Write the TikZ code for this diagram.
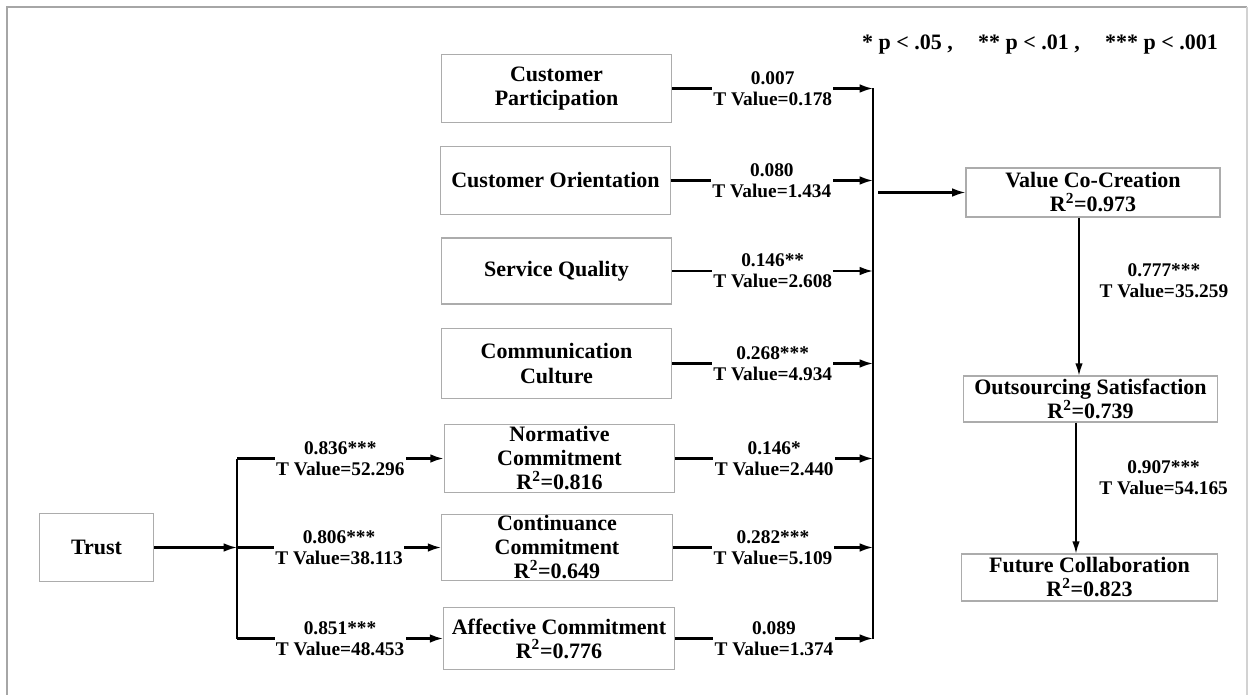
\documentclass[tikz,border=0pt]{standalone}
\usepackage{fontspec}
\setmainfont{Liberation Serif}
\usetikzlibrary{arrows.meta, positioning}

\begin{document}
\begin{tikzpicture}[x=0.75pt, y=-0.75pt, every node/.style={font=\bfseries},
    box/.style={rectangle, draw=gray!65, line width=0.8pt, align=center, inner sep=0pt,
        minimum width=173pt, minimum height=51pt, font=\fontsize{16.5}{18}\selectfont\bfseries},
    lbl/.style={fill=white, align=center, inner sep=1pt, font=\fontsize{14.5}{15.5}\selectfont\bfseries},
    arr/.style={line width=1.6pt, -{Latex[length=10pt, width=6.5pt]}},
    ln/.style={line width=1.6pt},
    varr/.style={line width=1pt, -{Latex[length=9pt, width=5.5pt]}}]
    \useasboundingbox (0,0) rectangle (1248,695);
    \draw[gray!70, line width=1.2pt] (7,695) -- (7,7) -- (1247,7);
    \draw[gray!35, line width=0.8pt] (1247,7) -- (1247,695);

    \node[box] (cp) at (556.5,88.5) {Customer\\Participation};
    \node[box, minimum width=172pt] (co) at (555.5,180.5) {Customer Orientation};
    \node[box, minimum height=49.5pt] (sq) at (556.5,271) {Service Quality};
    \node[box, minimum height=53pt] (cc) at (556.5,363.5) {Communication\\Culture};
    \node[box] (nc) at (559.5,458.5) {Normative\\Commitment\\R\textsuperscript{2}=0.816};
    \node[box, minimum height=49pt] (cm) at (557,547.5) {Continuance\\Commitment\\R\textsuperscript{2}=0.649};
    \node[box, minimum height=47pt] (ac) at (559,638.5) {Affective Commitment\\R\textsuperscript{2}=0.776};
    \node[box, minimum width=86pt] (trust) at (96.5,547.5) {Trust};
    \node[box, minimum width=190.5pt, minimum height=36.75pt] (vcc) at (1093,192.5) {Value Co-Creation\\R\textsuperscript{2}=0.973};
    \node[box, minimum width=191pt, minimum height=34.5pt] (os) at (1090.5,399) {Outsourcing Satisfaction\\R\textsuperscript{2}=0.739};
    \node[box, minimum width=192.5pt, minimum height=35.25pt] (fc) at (1089.5,577.5) {Future Collaboration\\R\textsuperscript{2}=0.823};

    \node[font=\fontsize{16.5}{18}\selectfont\bfseries] (note) at (1040,45) {* p < .05 ,\hspace{0.9em} ** p < .01 ,\hspace{0.9em} *** p < .001};

    \coordinate (brk) at (237,0);
    \coordinate (bus) at (873,0);
    \coordinate (busout) at (878,192.5);
    \coordinate (vline) at (1079,0);
    \coordinate (fline) at (1076,0);

    \draw[arr] (trust) -- (trust -| brk);
    \draw[ln] (nc -| brk) -- (ac -| brk);
    \draw[arr] (nc -| brk) -- node[lbl] {0.836***\\T Value=52.296} (nc);
    \draw[arr] (cm -| brk) -- node[lbl] {0.806***\\T Value=38.113} (cm);
    \draw[arr] (ac -| brk) -- node[lbl] {0.851***\\T Value=48.453} (ac);

    \draw[ln] (cp -| bus) -- (ac -| bus);
    \draw[arr] (cp) -- node[lbl] {0.007\\T Value=0.178} (cp -| bus);
    \draw[arr] (co) -- node[lbl] {0.080\\T Value=1.434} (co -| bus);
    \draw[arr] (sq) -- node[lbl] {0.146**\\T Value=2.608} (sq -| bus);
    \draw[arr] (cc) -- node[lbl] {0.268***\\T Value=4.934} (cc -| bus);
    \draw[arr] (nc) -- node[lbl] {0.146*\\T Value=2.440} (nc -| bus);
    \draw[arr] (cm) -- node[lbl] {0.282***\\T Value=5.109} (cm -| bus);
    \draw[arr] (ac) -- node[lbl] {0.089\\T Value=1.374} (ac -| bus);
    \draw[arr] (busout) -- (vcc);

    \draw[varr] (vcc.south -| vline) -- node[lbl, pos=0.4, anchor=west, xshift=14pt] {0.777***\\T Value=35.259} (os.north -| vline);
    \draw[varr] (os.south -| fline) -- node[lbl, pos=0.42, anchor=west, xshift=16pt] {0.907***\\T Value=54.165} (fc.north -| fline);
\end{tikzpicture}
\end{document}
